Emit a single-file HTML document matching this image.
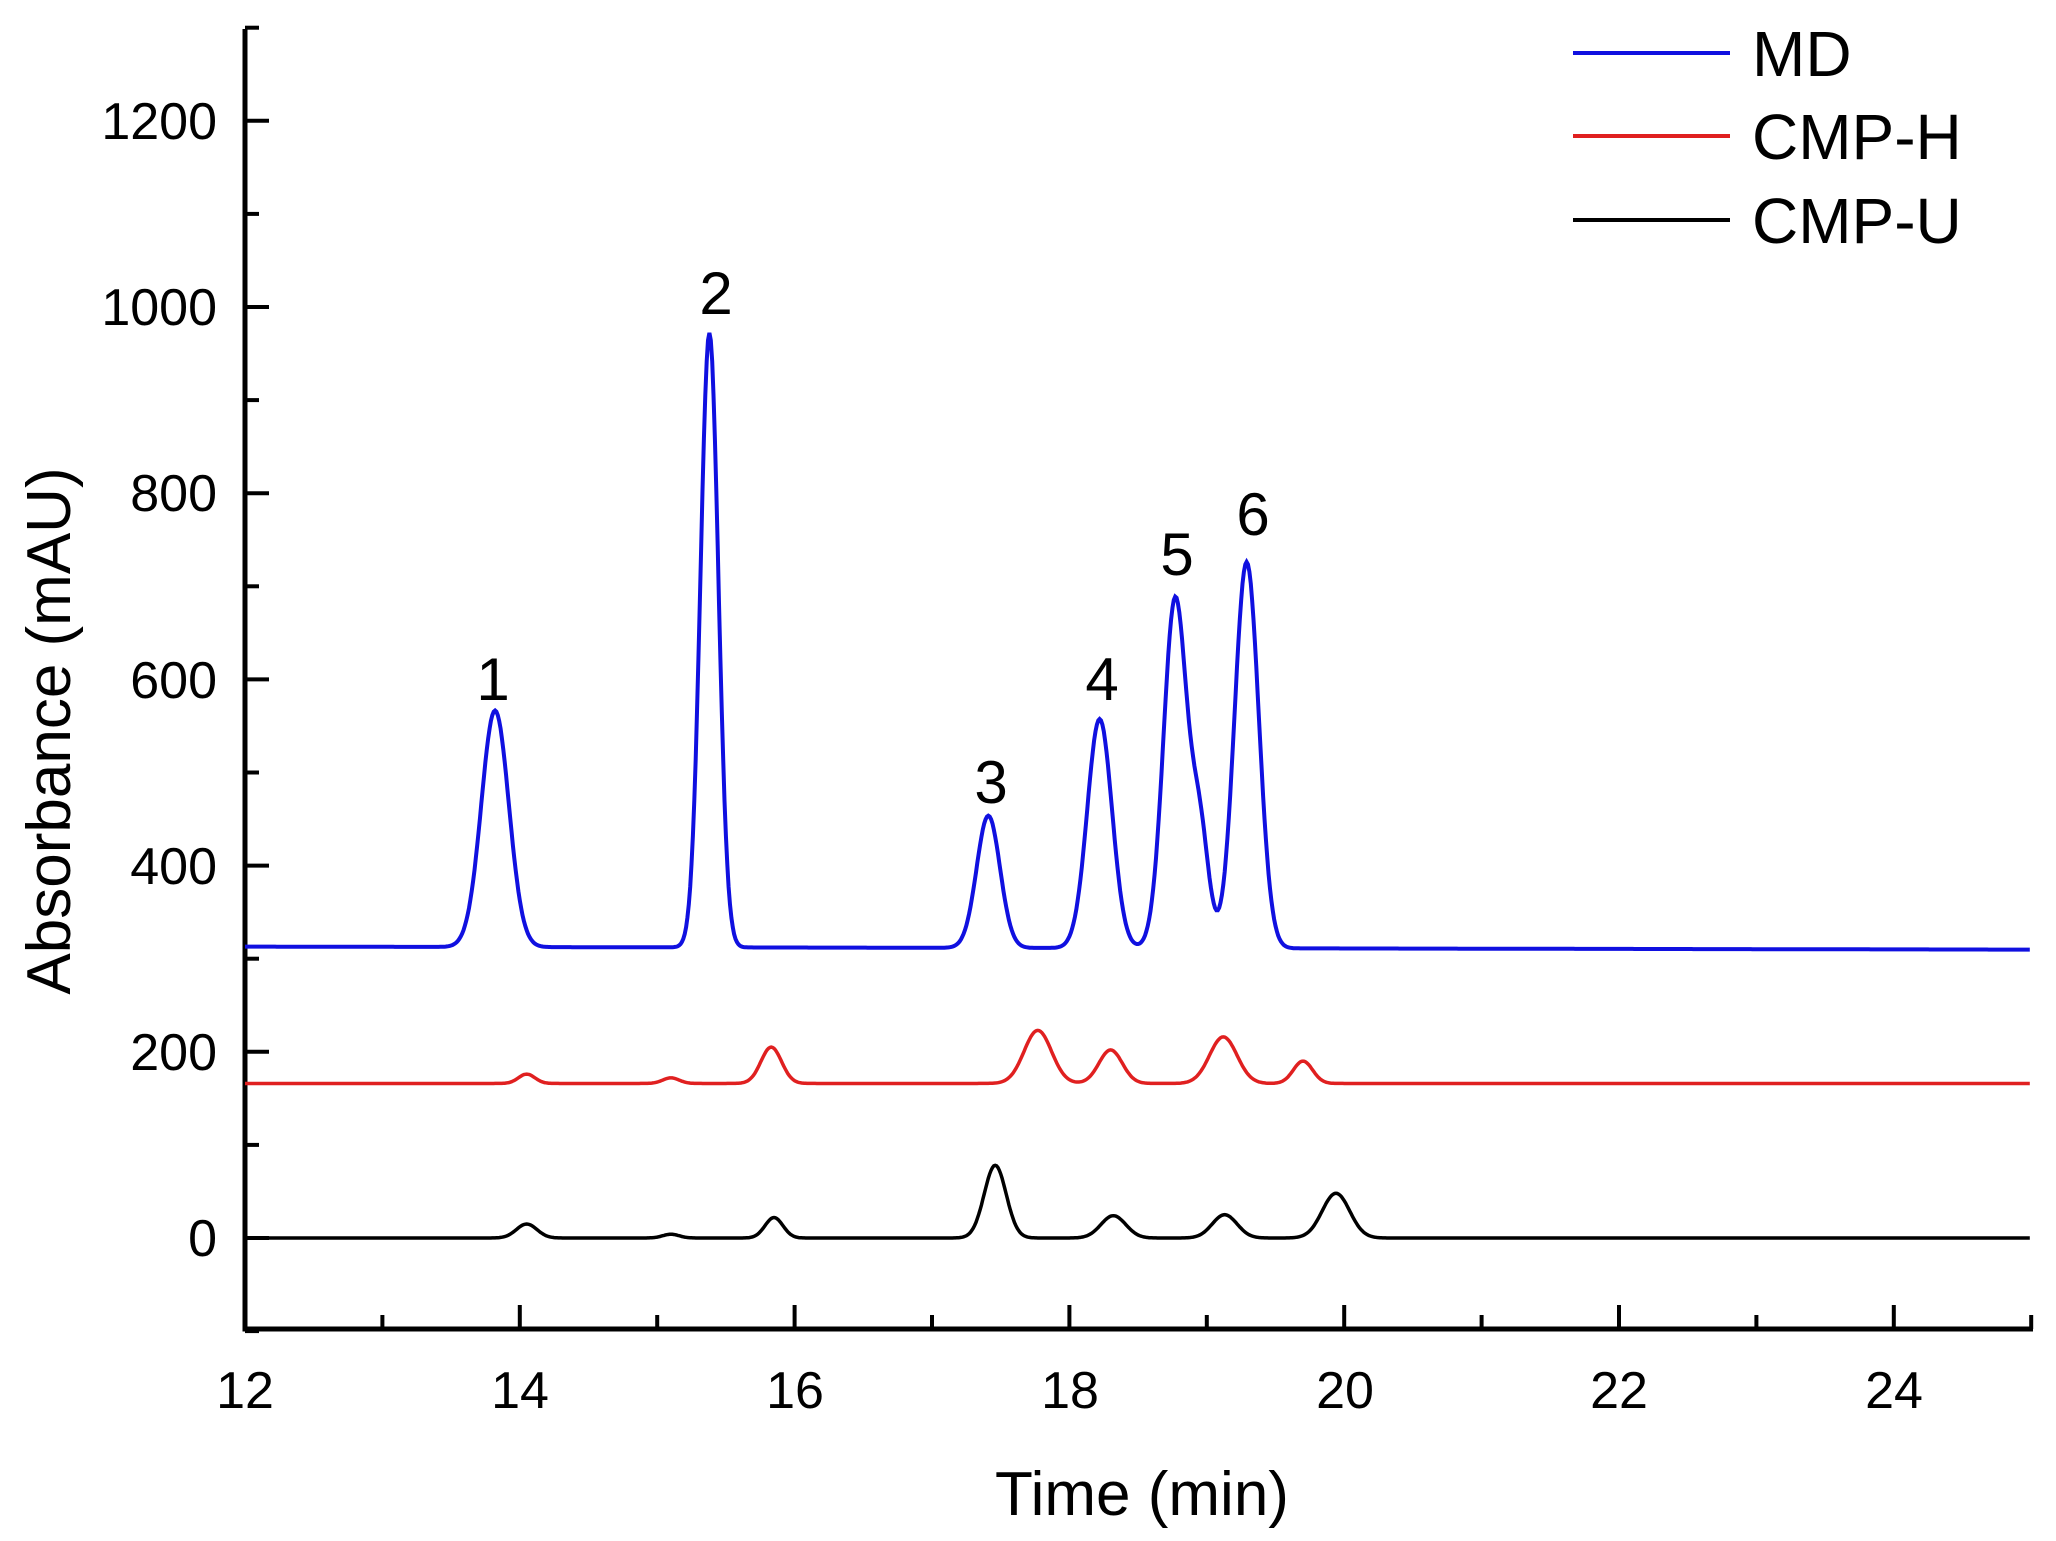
<!DOCTYPE html>
<html><head><meta charset="utf-8"><style>
html,body{margin:0;padding:0;background:#fff;}
svg{display:block;}
text{font-family:"Liberation Sans",Arial,sans-serif;fill:#000;}
</style></head><body>
<svg id="s" width="2056" height="1541" viewBox="0 0 2056 1541" xmlns="http://www.w3.org/2000/svg">
<g id="ticks" stroke="#000" stroke-width="4"></g>
<path d="M245,29 L245,1329 L2033,1329" fill="none" stroke="#000" stroke-width="5"/>
<g font-size="52" text-anchor="end">
<text x="217" y="1256">0</text>
<text x="217" y="1070">200</text>
<text x="217" y="884">400</text>
<text x="217" y="698">600</text>
<text x="217" y="511">800</text>
<text x="217" y="325">1000</text>
<text x="217" y="139">1200</text>
</g>
<g font-size="52" text-anchor="middle">
<text x="245" y="1408">12</text>
<text x="520" y="1408">14</text>
<text x="795" y="1408">16</text>
<text x="1070" y="1408">18</text>
<text x="1345" y="1408">20</text>
<text x="1619" y="1408">22</text>
<text x="1894" y="1408">24</text>
</g>
<text x="1142" y="1515" font-size="62" text-anchor="middle">Time (min)</text>
<text transform="translate(70,731) rotate(-90)" font-size="62" text-anchor="middle">Absorbance (mAU)</text>
<g font-size="60" text-anchor="middle">
<text x="493" y="700">1</text>
<text x="716" y="314">2</text>
<text x="991" y="803">3</text>
<text x="1102" y="700">4</text>
<text x="1177" y="575">5</text>
<text x="1253" y="535">6</text>
</g>
<line x1="1573" y1="53" x2="1730" y2="53" stroke="#1010e0" stroke-width="4"/>
<line x1="1573" y1="136" x2="1730" y2="136" stroke="#e02020" stroke-width="4"/>
<line x1="1573" y1="220" x2="1730" y2="220" stroke="#000" stroke-width="4"/>
<g font-size="64">
<text x="1752" y="76">MD</text>
<text x="1752" y="159">CMP-H</text>
<text x="1752" y="243">CMP-U</text>
</g>
<path id="pk" fill="none" stroke="#000" stroke-width="3.5"/>
<path id="pr" fill="none" stroke="#e02020" stroke-width="3.5"/>
<path id="pb" fill="none" stroke="#1010e0" stroke-width="4"/>
</svg>
<script>
var X=function(t){return 245+(t-12)*137.4;};
var Y=function(v){return 1238-v*0.931;};
var tg=document.getElementById('ticks'),h='';
for(var t=12;t<=25;t++){var L=(t%2==0)?24:14;h+='<line x1="'+X(t)+'" y1="1329" x2="'+X(t)+'" y2="'+(1329-L)+'"/>';}
for(var v=-100;v<=1300;v+=100){var L=(v%200==0)?24:14;h+='<line x1="245" y1="'+Y(v)+'" x2="'+(245+L)+'" y2="'+Y(v)+'"/>';}
tg.innerHTML=h;
function path(base,slope,peaks){var d='';for(var t=12;t<=25;t+=0.01){var v=base+slope*(t-12);for(var i=0;i<peaks.length;i++){var p=peaks[i];var z=(t-p[0])/p[2];v+=p[1]*Math.exp(-0.5*z*z);}d+=(d?'L':'M')+X(t).toFixed(1)+','+Y(v).toFixed(1);}return d;}
document.getElementById('pb').setAttribute('d',path(313,-0.25,[[13.82,254,0.1],[15.38,660,0.065],[17.41,142,0.085],[18.22,246,0.09],[18.77,375,0.085],[18.95,120,0.065],[19.29,415,0.088]]));
document.getElementById('pr').setAttribute('d',path(166,0,[[14.05,10,0.06],[15.1,6,0.06],[15.83,39,0.075],[17.77,57,0.1],[18.3,36,0.085],[19.12,50,0.1],[19.7,24,0.07]]));
document.getElementById('pk').setAttribute('d',path(0,0,[[14.05,15,0.075],[15.1,4,0.06],[15.85,22,0.065],[17.46,78,0.08],[18.32,24,0.09],[19.13,25,0.09],[19.94,48,0.1]]));
</script>
</body></html>
